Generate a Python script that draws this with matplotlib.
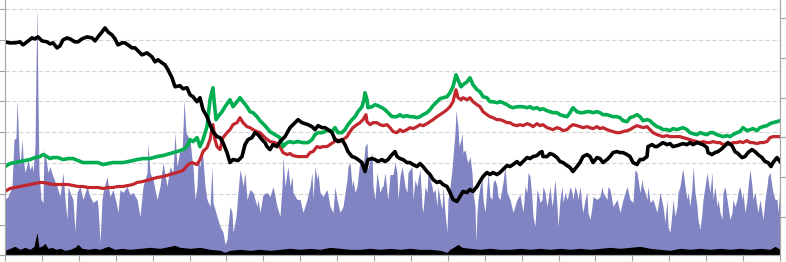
import numpy as np
import matplotlib.pyplot as plt

# readings: x = day position, y = height above the floor
black_x = [5, 10, 15, 20, 23, 27, 32, 35, 38, 42, 47, 50, 53, 57, 60, 63, 67, 70, 75, 78,
           82, 87, 92, 95, 98, 102, 105, 108, 112, 115, 118, 122, 125, 128, 132, 135, 137, 142, 147, 152,
           155, 158, 162, 165, 168, 172, 175, 180, 183, 187, 190, 193, 197, 200, 203, 207, 210, 213, 217, 220,
           223, 227, 230, 233, 238, 242, 245, 248, 252, 255, 258, 262, 265, 267, 270, 273, 277, 280, 285, 290,
           295, 298, 302, 305, 308, 312, 315, 318, 322, 325, 328, 332, 335, 338, 342, 345, 348, 352, 355, 358,
           362, 365, 368, 372, 375, 378, 382, 385, 388, 392, 395, 397, 400, 403, 407, 410, 413, 417, 420, 423,
           427, 430, 433, 437, 440, 443, 447, 450, 453, 457, 460, 463, 467, 470, 473, 477, 480, 483, 487, 490,
           493, 497, 500, 503, 507, 510, 513, 517, 520, 523, 527, 530, 533, 537, 540, 542, 543, 547, 550, 553,
           557, 560, 563, 567, 570, 573, 577, 580, 583, 587, 590, 593, 597, 600, 603, 607, 610, 613, 617, 620,
           623, 627, 630, 633, 637, 640, 643, 647, 648, 652, 655, 657, 660, 663, 667, 670, 673, 677, 680, 683,
           687, 690, 693, 697, 700, 703, 707, 708, 712, 715, 718, 722, 725, 728, 732, 735, 738, 742, 745, 748,
           752, 755, 758, 762, 765, 768, 771, 773, 777, 780]
black_y = [214, 213, 213, 214, 211, 214, 218, 217, 219, 215, 214, 212, 213, 208, 210, 216, 218, 217, 214, 214,
           217, 219, 218, 215, 219, 224, 228, 224, 221, 217, 211, 213, 213, 211, 208, 208, 206, 201, 203, 199,
           194, 196, 193, 191, 186, 178, 169, 170, 167, 168, 161, 159, 154, 158, 146, 139, 131, 124, 119, 118,
           113, 103, 93, 96, 95, 99, 111, 116, 118, 123, 121, 116, 113, 109, 106, 111, 109, 114, 119, 128,
           133, 136, 133, 132, 131, 129, 126, 130, 128, 128, 126, 123, 116, 114, 116, 111, 104, 99, 98, 96,
           93, 84, 96, 97, 96, 94, 96, 94, 96, 101, 104, 99, 97, 96, 93, 93, 91, 89, 92, 89,
           84, 81, 76, 73, 74, 71, 69, 63, 56, 54, 59, 64, 63, 66, 64, 69, 74, 79, 83, 81,
           83, 81, 83, 86, 90, 89, 91, 94, 91, 94, 98, 97, 99, 100, 103, 104, 99, 99, 102, 101,
           98, 94, 93, 90, 88, 84, 89, 93, 99, 101, 99, 93, 98, 97, 93, 96, 99, 103, 104, 103,
           103, 101, 99, 93, 91, 96, 96, 99, 109, 111, 109, 109, 111, 113, 111, 112, 109, 110, 111, 112,
           111, 113, 111, 113, 112, 111, 108, 103, 101, 103, 104, 107, 110, 113, 110, 104, 102, 98, 99, 103,
           106, 104, 101, 98, 94, 93, 89, 93, 98, 94]

green_x = [5, 10, 15, 20, 25, 30, 35, 40, 43, 47, 50, 53, 58, 63, 68, 73, 78, 83, 88, 93,
           98, 103, 108, 113, 118, 123, 128, 133, 137, 143, 150, 157, 163, 170, 177, 183, 187, 190, 193, 197,
           200, 203, 207, 210, 213, 214, 216, 218, 222, 225, 230, 233, 237, 240, 243, 247, 250, 253, 257, 260,
           265, 270, 275, 280, 283, 287, 290, 293, 298, 303, 308, 312, 315, 318, 322, 325, 328, 332, 335, 338,
           342, 345, 348, 352, 355, 358, 362, 364, 365, 367, 368, 372, 375, 378, 382, 385, 388, 392, 395, 397,
           400, 403, 407, 410, 413, 417, 420, 423, 427, 430, 433, 437, 440, 443, 447, 450, 453, 456, 458, 461,
           463, 467, 470, 473, 477, 480, 483, 487, 490, 493, 497, 500, 503, 507, 510, 513, 517, 520, 523, 527,
           530, 533, 537, 540, 543, 547, 550, 553, 557, 560, 563, 567, 570, 573, 577, 580, 583, 587, 590, 593,
           597, 600, 603, 607, 610, 613, 617, 620, 623, 627, 630, 633, 637, 640, 643, 647, 650, 653, 657, 660,
           663, 667, 670, 673, 677, 680, 683, 687, 690, 693, 697, 700, 703, 707, 710, 713, 717, 720, 723, 727,
           730, 733, 737, 740, 743, 747, 750, 753, 757, 760, 763, 767, 770, 773, 777, 780]
green_y = [89, 92, 93, 94, 95, 96, 98, 99, 101, 99, 97, 98, 98, 96, 97, 97, 95, 93, 93, 93,
           93, 91, 92, 93, 93, 93, 94, 95, 96, 97, 97, 99, 100, 102, 104, 106, 109, 116, 114, 118,
           109, 116, 129, 156, 168, 156, 136, 139, 144, 149, 156, 149, 154, 158, 154, 149, 144, 143, 139, 135,
           130, 124, 121, 118, 109, 113, 114, 113, 114, 113, 113, 116, 121, 123, 123, 124, 126, 124, 128, 123,
           123, 126, 131, 136, 139, 144, 149, 156, 163, 156, 148, 149, 151, 150, 148, 146, 143, 139, 139, 139,
           141, 139, 140, 139, 139, 138, 139, 141, 143, 146, 150, 154, 157, 158, 159, 163, 169, 181, 176, 169,
           171, 174, 178, 171, 166, 164, 159, 158, 154, 154, 153, 154, 153, 151, 149, 148, 149, 149, 149, 148,
           149, 147, 148, 146, 147, 145, 144, 143, 143, 141, 140, 139, 143, 148, 144, 143, 143, 144, 144, 143,
           144, 143, 141, 141, 140, 139, 139, 138, 135, 134, 138, 139, 141, 139, 135, 136, 135, 132, 129, 128,
           126, 126, 125, 127, 126, 127, 128, 126, 123, 122, 121, 123, 122, 121, 123, 123, 121, 120, 119, 120,
           119, 121, 123, 124, 128, 125, 126, 127, 125, 128, 129, 130, 132, 133, 134, 135]

red_x = [5, 10, 15, 20, 25, 30, 35, 40, 43, 48, 53, 58, 63, 68, 73, 78, 83, 88, 93, 98,
         103, 108, 113, 118, 123, 128, 133, 137, 143, 150, 157, 163, 170, 177, 183, 188, 192, 197, 200, 203,
         207, 210, 213, 215, 217, 220, 223, 227, 230, 233, 237, 240, 243, 247, 250, 253, 257, 260, 265, 270,
         275, 280, 283, 287, 290, 293, 298, 303, 307, 310, 313, 317, 320, 323, 327, 330, 333, 337, 340, 343,
         347, 350, 353, 357, 360, 363, 366, 367, 370, 373, 377, 380, 383, 387, 390, 393, 397, 400, 403, 407,
         410, 413, 417, 420, 423, 427, 430, 433, 437, 440, 443, 447, 450, 453, 456, 458, 461, 463, 467, 470,
         473, 477, 480, 483, 487, 490, 493, 497, 500, 503, 507, 510, 513, 517, 520, 523, 527, 530, 533, 537,
         540, 543, 547, 550, 553, 557, 560, 563, 567, 570, 573, 577, 580, 583, 587, 590, 593, 597, 600, 603,
         607, 610, 613, 617, 620, 623, 627, 630, 633, 637, 640, 643, 647, 650, 653, 657, 660, 663, 667, 670,
         673, 677, 680, 683, 687, 690, 693, 697, 700, 703, 707, 710, 713, 717, 720, 723, 727, 730, 733, 737,
         740, 743, 747, 750, 753, 757, 760, 763, 767, 770, 773, 777, 780]
red_y = [64, 67, 68, 69, 70, 71, 72, 73, 73, 72, 71, 71, 71, 71, 70, 69, 69, 68, 68, 68,
         67, 68, 68, 69, 69, 70, 71, 73, 74, 76, 78, 79, 81, 83, 85, 91, 93, 91, 96, 104,
         108, 116, 131, 116, 109, 106, 118, 123, 126, 131, 133, 138, 133, 129, 128, 126, 124, 123, 118, 114,
         113, 109, 103, 101, 102, 100, 99, 99, 99, 103, 104, 109, 108, 109, 109, 111, 113, 116, 114, 116,
         119, 124, 128, 131, 133, 136, 141, 134, 131, 133, 133, 131, 130, 131, 128, 124, 123, 126, 124, 126,
         128, 127, 129, 131, 130, 132, 134, 136, 139, 141, 143, 146, 149, 154, 166, 158, 156, 158, 156, 158,
         154, 151, 149, 144, 141, 139, 138, 136, 136, 135, 133, 133, 131, 130, 131, 130, 132, 131, 129, 132,
         130, 131, 128, 127, 126, 128, 127, 125, 126, 129, 131, 130, 129, 128, 129, 128, 127, 129, 127, 128,
         126, 125, 124, 123, 123, 124, 125, 126, 128, 130, 129, 128, 129, 126, 123, 121, 120, 119, 120, 119,
         119, 119, 119, 118, 117, 116, 115, 114, 113, 114, 113, 113, 114, 113, 113, 111, 112, 111, 113, 113,
         114, 113, 115, 113, 113, 112, 113, 113, 114, 118, 119, 119, 119]

vol_x = [5, 8, 12, 14, 16, 17, 19, 20, 22, 23, 25, 27, 28, 30, 32, 33, 35, 36, 37, 38,
         39, 41, 43, 44, 46, 48, 50, 53, 57, 60, 63, 65, 67, 68, 70, 73, 75, 77, 80, 83,
         87, 90, 93, 97, 98, 100, 102, 103, 107, 110, 113, 117, 118, 120, 123, 127, 130, 133, 137, 140,
         143, 147, 148, 150, 153, 157, 160, 163, 167, 170, 173, 175, 177, 180, 182, 183, 184, 186, 188, 190,
         192, 193, 195, 197, 198, 200, 202, 203, 205, 207, 210, 212, 213, 217, 220, 223, 225, 227, 228, 230,
         232, 233, 236, 238, 240, 242, 243, 245, 247, 250, 253, 257, 258, 260, 263, 267, 270, 273, 277, 280,
         282, 283, 285, 287, 288, 290, 292, 293, 297, 300, 303, 307, 310, 312, 313, 315, 317, 318, 320, 323,
         327, 330, 333, 335, 337, 340, 343, 347, 348, 350, 352, 353, 355, 357, 360, 363, 365, 367, 368, 370,
         372, 373, 375, 377, 380, 382, 383, 385, 387, 388, 390, 393, 395, 397, 398, 400, 402, 403, 405, 407,
         408, 410, 412, 413, 415, 417, 418, 420, 422, 423, 425, 427, 428, 430, 432, 433, 435, 437, 438, 440,
         442, 443, 445, 447, 448, 450, 452, 453, 455, 456, 457, 458, 459, 461, 462, 463, 465, 467, 468, 470,
         472, 473, 475, 476, 477, 478, 480, 482, 483, 485, 487, 488, 490, 492, 493, 495, 497, 498, 500, 503,
         505, 507, 510, 513, 517, 520, 523, 525, 527, 528, 530, 532, 533, 535, 537, 538, 540, 542, 543, 545,
         547, 550, 552, 553, 555, 557, 558, 560, 562, 563, 565, 567, 568, 570, 572, 573, 575, 577, 578, 580,
         582, 583, 585, 587, 588, 590, 592, 593, 597, 600, 602, 603, 607, 608, 610, 613, 617, 620, 623, 627,
         630, 633, 635, 637, 638, 640, 642, 643, 645, 647, 648, 650, 653, 657, 660, 663, 665, 667, 668, 670,
         672, 673, 675, 677, 678, 680, 682, 683, 685, 687, 688, 690, 692, 693, 695, 697, 698, 700, 702, 703,
         705, 707, 708, 710, 712, 713, 715, 717, 718, 720, 722, 723, 725, 727, 728, 730, 732, 733, 735, 737,
         738, 740, 742, 743, 745, 747, 748, 750, 752, 753, 755, 757, 758, 760, 762, 763, 765, 767, 768, 770,
         772, 773, 775, 777, 778, 780]
vol_y = [56, 59, 69, 116, 118, 156, 106, 89, 116, 99, 83, 91, 96, 86, 91, 83, 109, 189, 251, 156,
         83, 56, 53, 106, 96, 83, 89, 79, 69, 59, 83, 56, 36, 69, 63, 56, 23, 63, 69, 56,
         69, 59, 53, 56, 49, 13, 56, 63, 79, 59, 66, 49, 43, 66, 63, 69, 61, 63, 56, 39,
         69, 83, 113, 83, 76, 56, 69, 93, 69, 89, 83, 123, 89, 106, 103, 126, 156, 123, 119, 116,
         96, 89, 56, 69, 96, 89, 109, 96, 69, 56, 49, 89, 53, 39, 29, 23, 11, 16, 29, 49,
         43, 23, 39, 63, 86, 76, 69, 83, 56, 66, 63, 49, 56, 43, 61, 63, 59, 69, 49, 39,
         69, 99, 69, 83, 89, 69, 79, 63, 56, 56, 43, 56, 69, 83, 56, 89, 76, 83, 63, 59,
         66, 49, 43, 69, 56, 43, 49, 76, 89, 93, 69, 76, 63, 69, 96, 86, 109, 113, 86, 96,
         103, 69, 56, 83, 63, 69, 69, 83, 63, 56, 81, 81, 93, 83, 56, 79, 89, 83, 69, 63,
         83, 86, 89, 56, 76, 69, 76, 86, 49, 43, 69, 63, 83, 76, 69, 63, 66, 49, 69, 56,
         46, 69, 43, 23, 56, 69, 86, 99, 123, 146, 136, 129, 109, 116, 123, 103, 106, 96, 93, 99,
         83, 63, 49, 13, 43, 56, 69, 76, 56, 43, 69, 83, 59, 56, 73, 76, 69, 59, 56, 73,
         89, 63, 56, 43, 56, 61, 43, 69, 63, 83, 79, 56, 39, 29, 66, 63, 53, 56, 69, 63,
         49, 69, 49, 56, 76, 49, 29, 56, 69, 53, 63, 56, 59, 69, 63, 56, 69, 63, 56, 69,
         49, 43, 56, 63, 43, 36, 49, 59, 56, 59, 69, 63, 56, 69, 66, 49, 56, 43, 56, 69,
         56, 53, 86, 83, 76, 63, 76, 69, 63, 56, 69, 53, 56, 43, 63, 49, 33, 56, 29, 23,
         43, 56, 39, 49, 63, 69, 83, 86, 69, 56, 63, 49, 69, 89, 63, 49, 36, 26, 43, 56,
         69, 83, 76, 63, 83, 56, 69, 49, 56, 43, 36, 63, 69, 56, 49, 36, 43, 56, 49, 56,
         63, 69, 56, 63, 43, 56, 69, 86, 69, 56, 63, 49, 43, 56, 43, 36, 56, 69, 79, 83,
         69, 63, 56, 56, 43, 69]

base_x = [5, 10, 15, 20, 25, 30, 34, 37, 39, 43, 45, 48, 52, 56, 60, 65, 70, 75, 78, 82,
          88, 95, 100, 108, 115, 122, 130, 140, 150, 160, 170, 175, 180, 190, 200, 210, 220, 225, 230, 240,
          250, 260, 270, 280, 290, 300, 310, 320, 330, 340, 350, 360, 370, 380, 390, 400, 410, 420, 430, 440,
          447, 450, 455, 458, 462, 470, 480, 490, 500, 510, 520, 530, 540, 550, 560, 570, 580, 590, 600, 610,
          620, 630, 640, 650, 660, 670, 680, 690, 700, 710, 720, 730, 740, 750, 760, 770, 775, 780]
base_y = [5, 7, 9, 6, 8, 6, 9, 23, 8, 10, 12, 7, 8, 6, 7, 5, 6, 8, 11, 7,
          6, 7, 6, 9, 6, 7, 6, 7, 8, 7, 9, 10, 8, 7, 8, 6, 5, 3, 5, 6,
          5, 6, 5, 6, 7, 6, 7, 6, 8, 7, 6, 6, 7, 6, 7, 6, 7, 6, 6, 5,
          3, 6, 9, 11, 8, 7, 6, 7, 6, 6, 7, 6, 7, 6, 7, 6, 7, 6, 7, 8,
          7, 8, 9, 7, 6, 5, 7, 6, 7, 6, 7, 6, 7, 6, 7, 6, 9, 6]

fig = plt.figure(figsize=(7.86, 2.62), dpi=100)
ax = fig.add_axes([5 / 786, 6.7 / 262, 775 / 786, 255.3 / 262])

ax.fill_between(vol_x, 0, vol_y, color='#8184c2', lw=0)
ax.fill_between(base_x, 0, base_y, color='black', lw=0)
ax.plot(red_x, red_y, color='#c1272d', lw=2.3, solid_joinstyle='round')
ax.plot(green_x, green_y, color='#00ad50', lw=2.6, solid_joinstyle='round')
ax.plot(black_x, black_y, color='black', lw=2.6, solid_joinstyle='round')

ax.set_xlim(5, 780)
ax.set_ylim(0.7, 256)
ax.set_xticks(5 + 36.9 * np.arange(22))
ax.set_yticks(30.85 * np.arange(9))
ax.set_axisbelow(True)
ax.grid(axis='y', color='#d3d3d3', ls=(0, (4, 2)), lw=0.8)
ax.tick_params(direction='out', length=4.5, width=0.8, color='#a0a0a0',
               labelbottom=False, labelleft=False)

ax2 = ax.twinx()
ax2.set_ylim(0.7, 256)
ax2.set_yticks(39 + 39.8 * np.arange(6))
ax2.tick_params(direction='out', length=4.5, width=0.8, color='#a0a0a0', labelright=False)

for a in (ax, ax2):
    a.spines['top'].set_visible(False)
    for s in ('left', 'right', 'bottom'):
        a.spines[s].set_color('#a8a8a8')
        a.spines[s].set_linewidth(0.8)

fig.savefig('out.png', dpi=100)
